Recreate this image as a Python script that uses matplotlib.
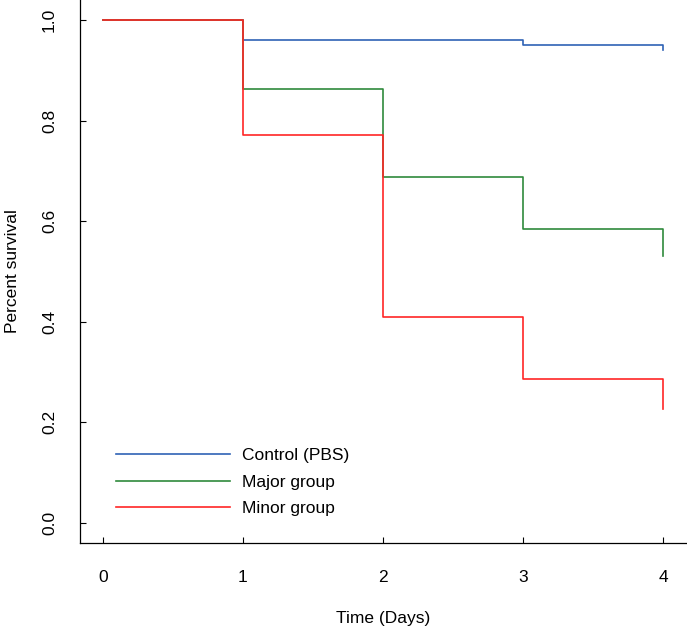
import numpy as np
import matplotlib
matplotlib.use("Agg")
import matplotlib.pyplot as plt

plt.rcParams['font.family'] = ['Liberation Sans', 'DejaVu Sans']

# survival data
days = [0, 1, 2, 3, 4]
control = [1.0, 0.96, 0.96, 0.95, 0.94]
major = [1.0, 0.863, 0.688, 0.584, 0.531]
minor = [1.0, 0.771, 0.410, 0.286, 0.227]
labels = ['Control (PBS)', 'Major group', 'Minor group']
colors = ['#2f62b5', '#2f8a3c', '#ff2626']

x_ticks = [0, 1, 2, 3, 4]
y_ticks = [0.0, 0.2, 0.4, 0.6, 0.8, 1.0]

W, H = 687, 628
fs = 12.5
fig = plt.figure(figsize=(W / 100, H / 100), dpi=100)
ax = fig.add_axes([80 / W, (H - 543) / H, 607 / W, 543 / H])

for surv, lab, col in zip([control, major, minor], labels, colors):
    ax.step(days, surv, where='post', color=col, lw=1.2, label=lab)

ax.set_xlim(-0.164, 4.171)
ax.set_ylim(-0.04, 1.04)
ax.set_xticks(x_ticks)
ax.set_yticks(y_ticks)
ax.set_xticklabels([str(t) for t in x_ticks])
ax.set_yticklabels(['%.1f' % t for t in y_ticks], rotation=90, va='center')
ax.tick_params(direction='in', length=4, width=0.8, labelsize=fs)
ax.tick_params(axis='x', pad=19.5)
ax.tick_params(axis='y', pad=16.5)

for s in ['top', 'right']:
    ax.spines[s].set_visible(False)
for s in ['left', 'bottom']:
    ax.spines[s].set_linewidth(0.9)

ax.set_xlabel('Time (Days)', fontsize=fs)
ax.set_ylabel('Percent survival', fontsize=fs)
ax.xaxis.set_label_coords(0.5, -0.126)
ax.yaxis.set_label_coords(-0.099, 0.5)

ax.legend(loc='center left', bbox_to_anchor=(0.0593, 0.112), frameon=False,
          fontsize=fs, handlelength=6.56, handletextpad=0.69, labelspacing=0.66,
          borderpad=0, borderaxespad=0)

fig.savefig('out.png', dpi=100)
